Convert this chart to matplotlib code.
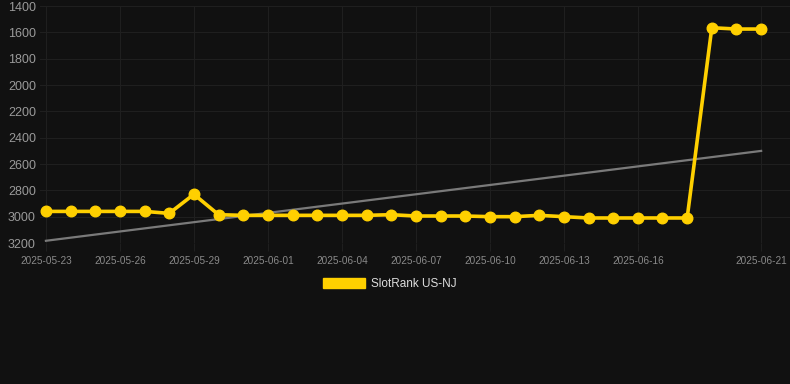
import numpy as np
import pandas as pd
import matplotlib
matplotlib.use("Agg")
import matplotlib.pyplot as plt
import matplotlib.dates as mdates
from matplotlib.patches import Patch

plt.rcParams['font.family'] = ['Liberation Sans', 'DejaVu Sans']

# daily rank values, 2025-05-23 .. 2025-06-21
dates = pd.date_range("2025-05-23", "2025-06-21", freq="D")
ranks = [2960, 2960, 2960, 2960, 2960, 2975, 2830, 2985, 2990, 2990,
         2990, 2990, 2990, 2990, 2985, 2995, 2995, 2995, 3000, 3000,
         2990, 3000, 3010, 3010, 3010, 3010, 3010, 1565, 1575, 1575]
tick_labels = ["2025-05-23", "2025-05-26", "2025-05-29", "2025-06-01", "2025-06-04",
               "2025-06-07", "2025-06-10", "2025-06-13", "2025-06-16", "2025-06-21"]
y_ticks = [1400, 1600, 1800, 2000, 2200, 2400, 2600, 2800, 3000, 3200]
series_name = "SlotRank US-NJ"

BG = "#111111"
GRID = "#1f1f1f"
TXT = "#8a8a8a"
YEL = "#FFD000"

fig = plt.figure(figsize=(7.9, 3.84), dpi=100, facecolor=BG)
ax = fig.add_axes([40 / 790, 1 - 243 / 384, 750 / 790, 237 / 384], facecolor=BG)

# trend line (least squares over the series)
xnum = mdates.date2num(dates)
k, b = np.polyfit(xnum - xnum[0], ranks, 1)
ax.plot(dates, k * (xnum - xnum[0]) + b, color="#7a7a7a", lw=1.6, zorder=2)

ax.plot(dates, ranks, color=YEL, lw=2.6, marker="o", ms=7.6, zorder=3)

ax.set_ylim(3200, 1400)
ax.set_yticks(y_ticks)
ax.set_xlim(xnum[0] - 0.24, xnum[0] + 30.17)
ax.set_xticks(mdates.date2num(pd.to_datetime(tick_labels)))
ax.set_xticklabels(tick_labels)

ax.grid(True, color=GRID, lw=0.8)
for s in ax.spines.values():
    s.set_visible(False)
ax.tick_params(axis="y", colors=TXT, labelsize=9, length=0, pad=3)
ax.tick_params(axis="x", colors=TXT, labelsize=7.2, length=6, color=GRID, pad=3)
for lab in ax.get_yticklabels():
    lab.set_color("#9a9a9a")

fig.legend(handles=[Patch(facecolor=YEL, edgecolor=YEL)], labels=[series_name],
           loc="center", bbox_to_anchor=(390 / 790, 1 - 284 / 384), frameon=False,
           handlelength=3.6, handleheight=0.9, handletextpad=0.5,
           labelcolor="#dddddd", fontsize=8.5)

fig.savefig("out.png", dpi=100, facecolor=BG)
